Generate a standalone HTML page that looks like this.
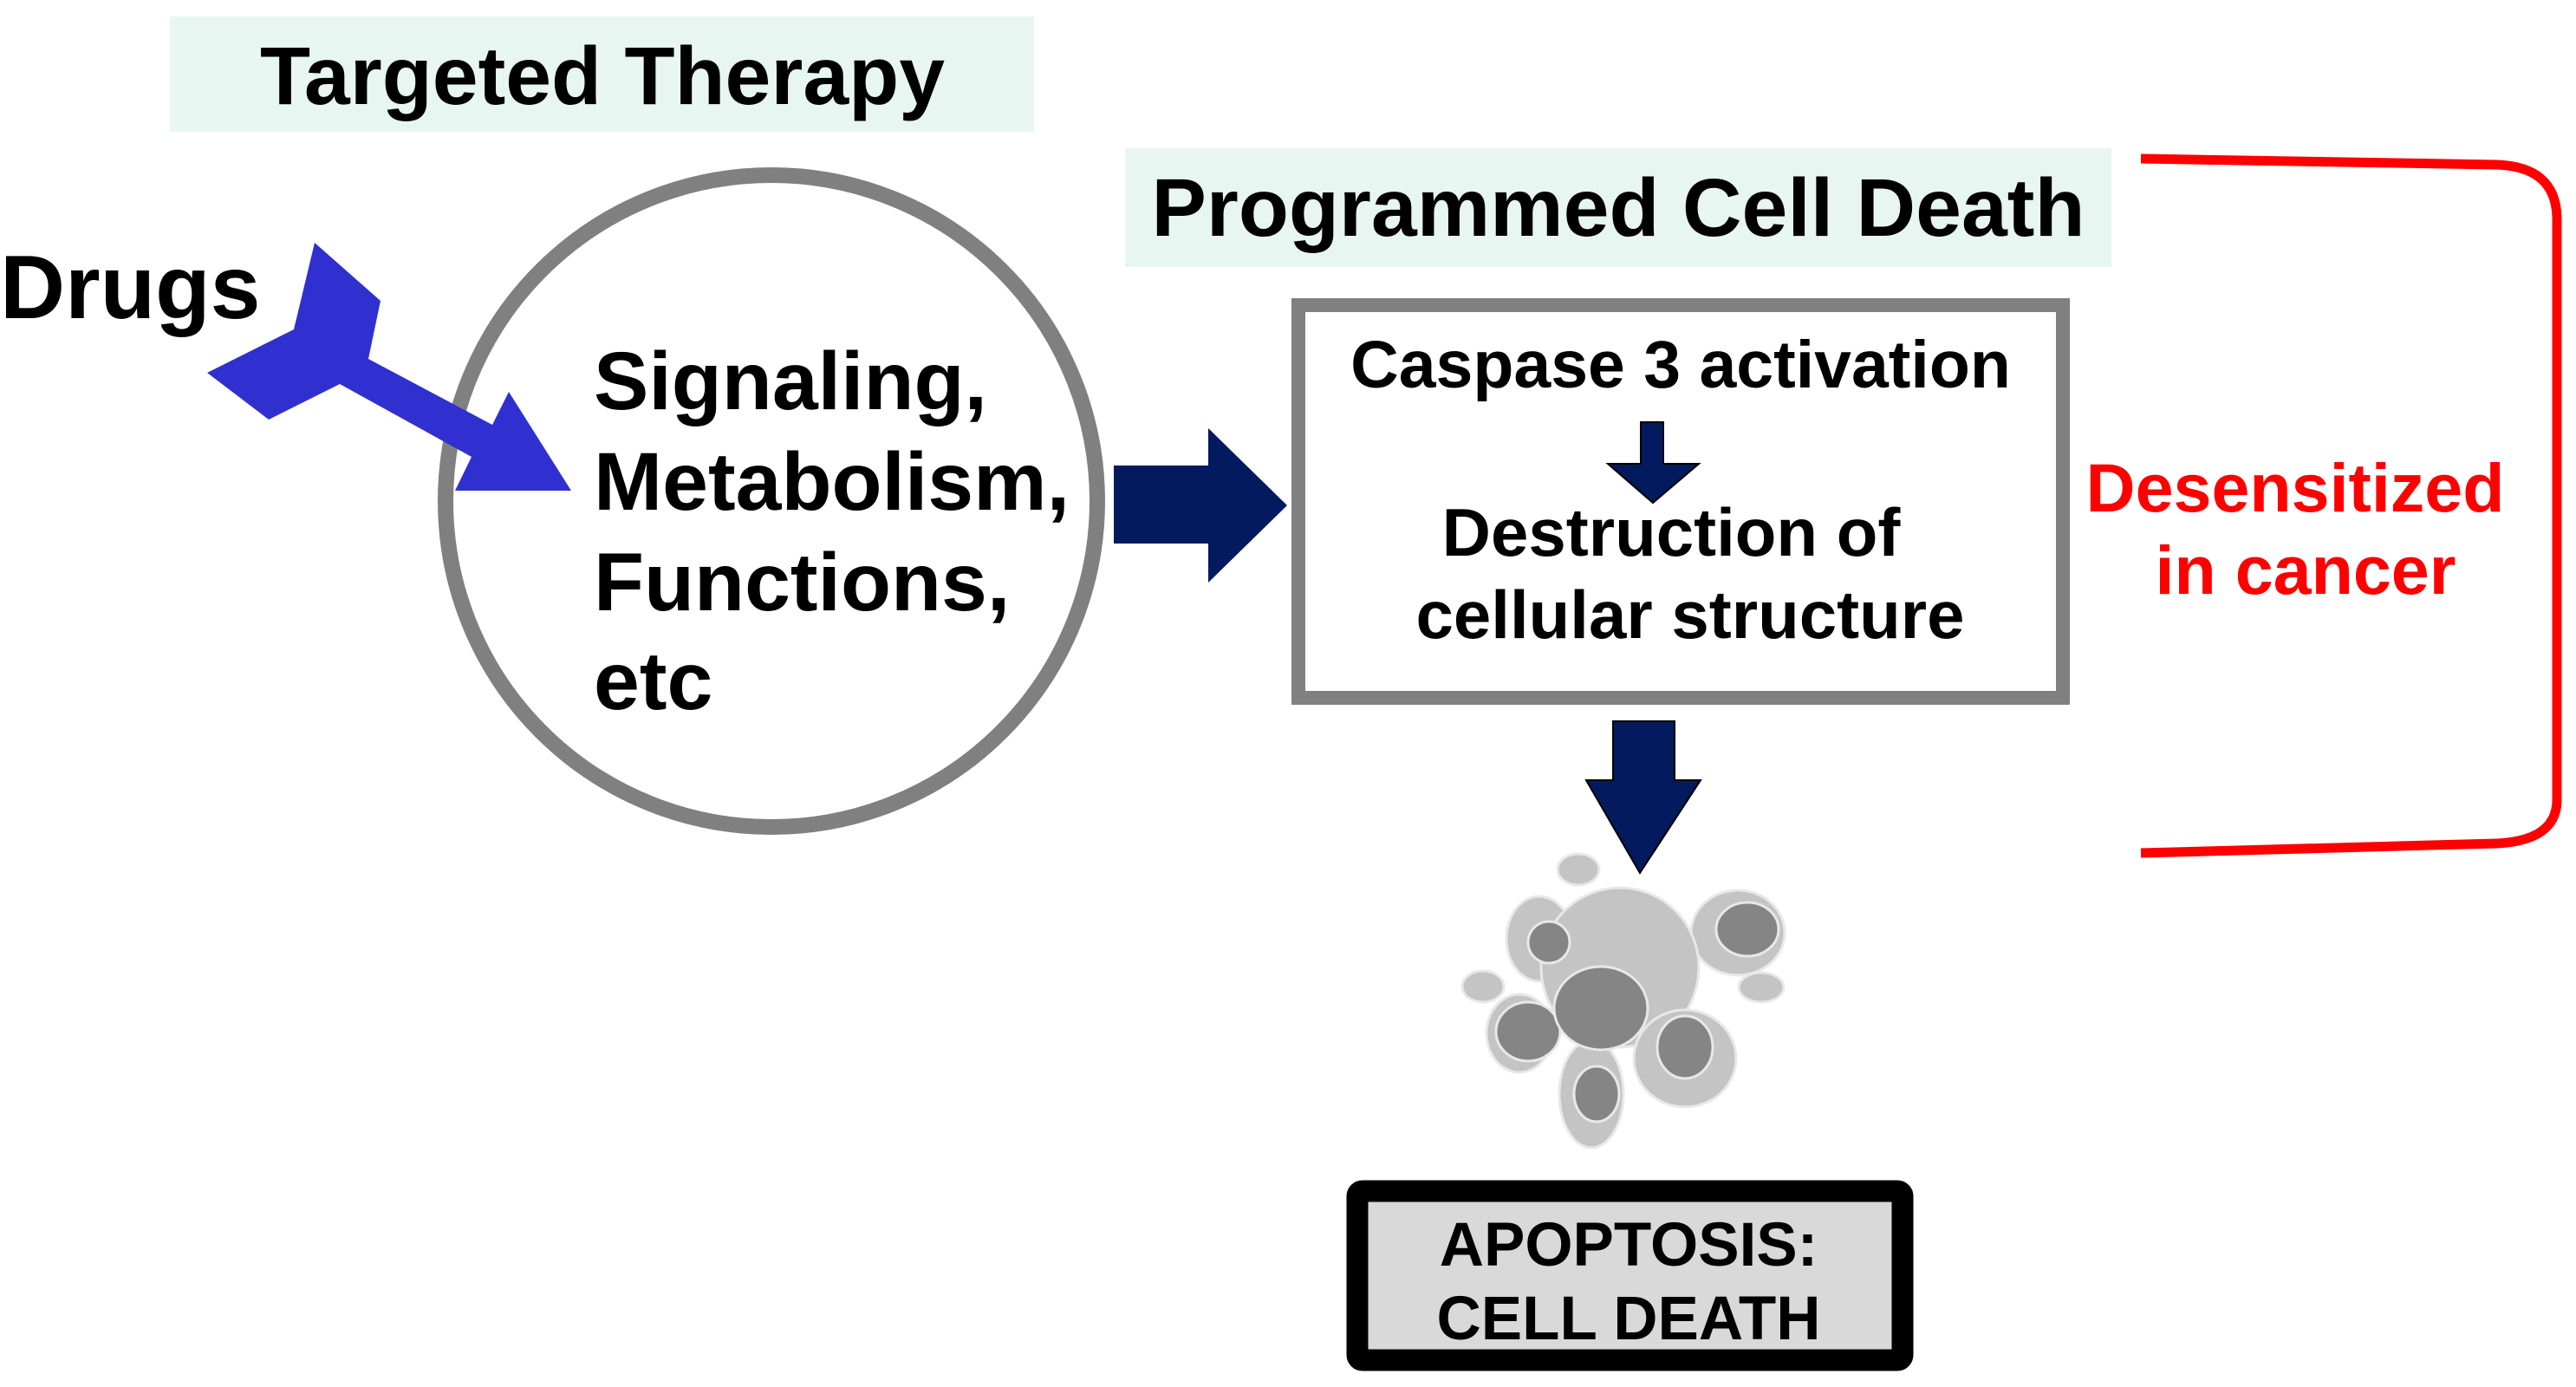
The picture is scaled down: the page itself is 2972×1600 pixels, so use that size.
<!DOCTYPE html>
<html><head><meta charset="utf-8"><style>
html,body{margin:0;padding:0;background:#fff;}
svg{display:block;}
text{font-family:"Liberation Sans",Arial,sans-serif;font-weight:bold;}
</style></head><body>
<svg width="2972" height="1600" viewBox="0 0 2972 1600" xmlns="http://www.w3.org/2000/svg">
<rect x="196" y="19" width="997" height="133" fill="#e8f6f1"/>
<text x="695" y="120" font-size="95" text-anchor="middle" fill="#000">Targeted Therapy</text>
<text x="0" y="367" font-size="104" fill="#000">Drugs</text>
<circle cx="890" cy="578" r="376" fill="#fff" stroke="#808080" stroke-width="18"/>
<text font-size="95" fill="#000">
<tspan x="685" y="472">Signaling,</tspan>
<tspan x="685" y="588">Metabolism,</tspan>
<tspan x="685" y="704">Functions,</tspan>
<tspan x="685" y="818">etc</tspan>
</text>
<polygon points="363,280 439,347 425,414 568,490 587,452 659,566 525,566 544,527 392,443 310,484 239,430 339,380" fill="#3030d0"/>
<polygon points="1285,537 1394,537 1394,494 1485,583 1394,672 1394,627 1285,627" fill="#041a5e"/>
<rect x="1298" y="171" width="1138" height="137" fill="#e8f6f1"/>
<text x="1867" y="272" font-size="95" text-anchor="middle" fill="#000">Programmed Cell Death</text>
<rect x="1498" y="352" width="882" height="453" fill="#fff" stroke="#808080" stroke-width="16"/>
<text x="1939" y="447" font-size="77" text-anchor="middle" fill="#000">Caspase 3 activation</text>
<polygon points="1893,487 1919,487 1919,535 1960,535 1907,580 1855,535 1893,535" fill="#041a5e" stroke="#000" stroke-width="2"/>
<text x="1928" y="641" font-size="78" text-anchor="middle" fill="#000">Destruction of</text>
<text x="1950" y="736" font-size="78" text-anchor="middle" fill="#000">cellular structure</text>
<polygon points="1861,832 1932,832 1932,900 1962,900 1892,1007 1830,900 1861,900" fill="#041a5e" stroke="#000" stroke-width="2"/>
<g stroke="#e8e8e8" stroke-width="3">
<ellipse cx="1821" cy="1003" rx="24" ry="18" fill="#c4c4c4"/>
<ellipse cx="1711" cy="1138" rx="24" ry="18" fill="#c4c4c4"/>
<ellipse cx="2032" cy="1139" rx="26" ry="17" fill="#c4c4c4"/>
<ellipse cx="1776" cy="1083" rx="38" ry="49" fill="#c4c4c4"/>
<ellipse cx="2005" cy="1076" rx="54" ry="49" fill="#c4c4c4"/>
<ellipse cx="1869" cy="1116" rx="91" ry="92" fill="#c4c4c4"/>
<ellipse cx="1753" cy="1192" rx="38" ry="45" fill="#c4c4c4"/>
<ellipse cx="1836" cy="1262" rx="37" ry="62" fill="#c4c4c4"/>
<ellipse cx="1944" cy="1221" rx="59" ry="56" fill="#c4c4c4"/>
<ellipse cx="1787" cy="1087" rx="24" ry="24" fill="#858585"/>
<ellipse cx="2016" cy="1072" rx="36" ry="31" fill="#858585"/>
<ellipse cx="1763" cy="1190" rx="37" ry="34" fill="#858585"/>
<ellipse cx="1847" cy="1163" rx="54" ry="48" fill="#858585"/>
<ellipse cx="1842" cy="1262" rx="26" ry="32" fill="#858585"/>
<ellipse cx="1944" cy="1208" rx="32" ry="36" fill="#858585"/>
</g>
<rect x="1566" y="1374" width="629" height="195" rx="6" fill="#d9d9d9" stroke="#000" stroke-width="25"/>
<text x="1879" y="1460" font-size="71" text-anchor="middle" fill="#000">APOPTOSIS:</text>
<text x="1879" y="1545" font-size="71" text-anchor="middle" fill="#000">CELL DEATH</text>
<path d="M2470,183 L2880,190 Q2948,192 2950,250 L2950,925 Q2948,970 2880,973 L2470,984" fill="none" stroke="#ff0000" stroke-width="11"/>
<text x="2648" y="590" font-size="79" text-anchor="middle" fill="#ff0000">Desensitized</text>
<text x="2660" y="685" font-size="79" text-anchor="middle" fill="#ff0000">in cancer</text>
</svg>
</body></html>
